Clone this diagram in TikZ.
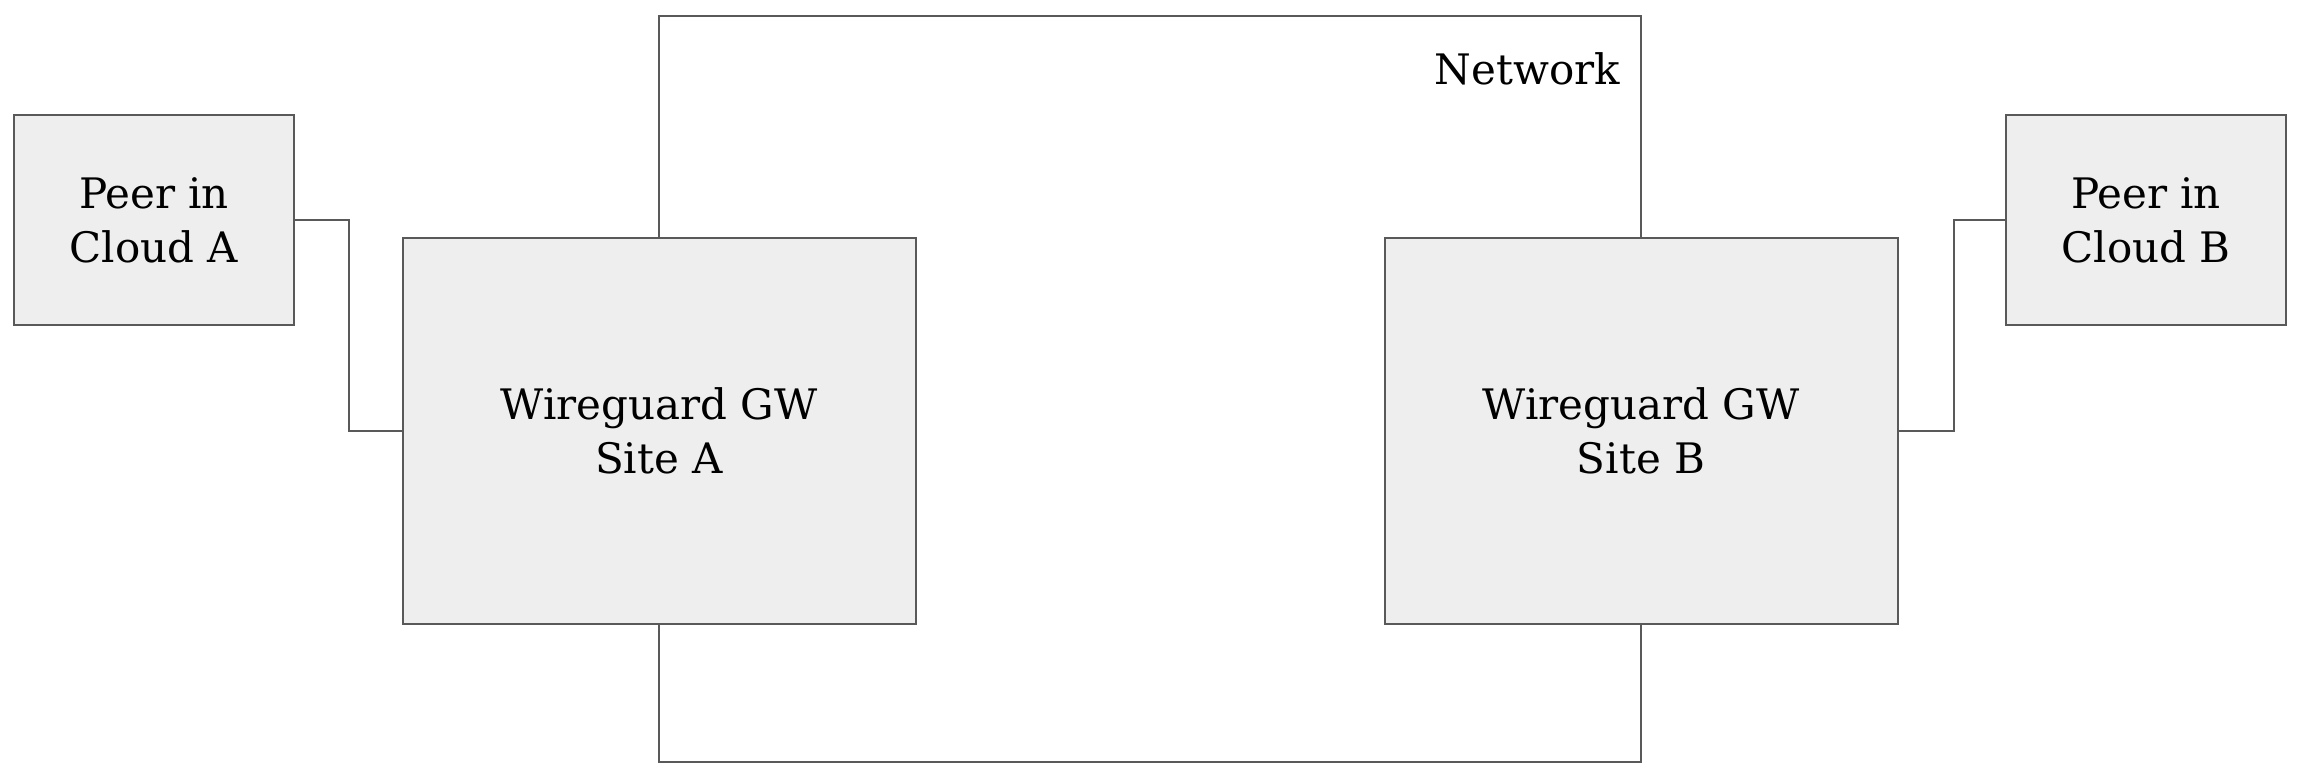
\documentclass[tikz,border=0pt]{standalone}
\usepackage{fontspec}
\setmainfont{DejaVu Serif}
\usepackage{tikz}
\usetikzlibrary{arrows, positioning}
\definecolor{linegray}{HTML}{595959}
\definecolor{boxgray}{HTML}{EEEEEE}

\begin{document}
\begin{tikzpicture}[x=1pt, y=1pt,
    wire/.style={draw=linegray, line width=2pt},
    peerbox/.style={draw=linegray, line width=2pt, fill=boxgray, minimum width=280pt, minimum height=210pt, align=center, inner sep=0pt},
    gwbox/.style={draw=linegray, line width=2pt, fill=boxgray, minimum width=513pt, minimum height=386pt, align=center, inner sep=0pt},
    lbl/.style={font=\fontsize{42}{54}\selectfont}]
    \useasboundingbox (0,0) rectangle (2297,781);

    % Gateways
    \node[gwbox, lbl] (siteA) at (659,350) {Wireguard GW\\Site A};
    \node[gwbox, lbl] (siteB) at (1641,350) {Wireguard GW\\Site B};

    % Peers
    \node[peerbox, lbl] (peerA) at (154,561) {Peer in\\Cloud A};
    \node[peerbox, lbl] (peerB) at (2146,561) {Peer in\\Cloud B};

    % Network
    \coordinate (nettop) at (1150,765);
    \coordinate (netbot) at (1150,19);
    \draw[wire] (siteA.north) |- (nettop) -| (siteB.north);
    \draw[wire] (siteA.south) |- (netbot) -| (siteB.south);
    \node[lbl, anchor=base east, inner sep=0pt] (netlabel) at (1620,696) {Network};

    % Peer links
    \draw[wire] (peerA.east) -- ++(54,0) |- (siteA.west);
    \draw[wire] (siteB.east) -- ++(55,0) |- (peerB.west);
\end{tikzpicture}
\end{document}
